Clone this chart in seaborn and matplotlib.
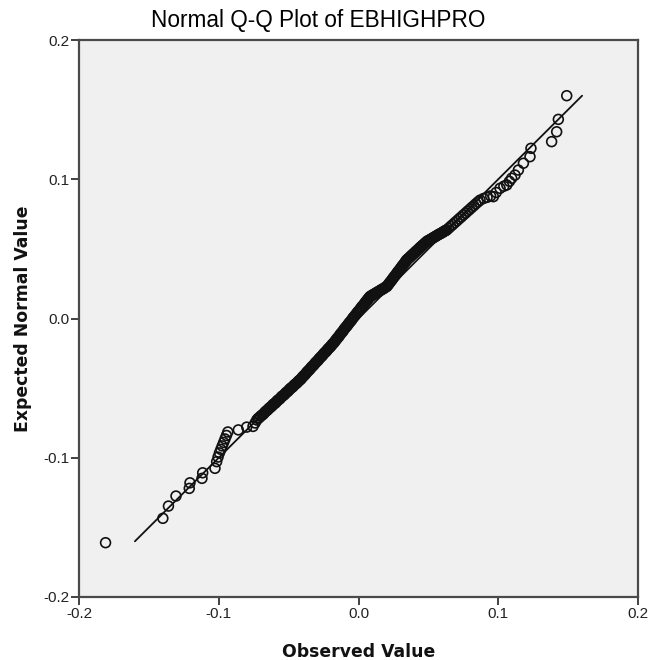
import numpy as np
import pandas as pd
import matplotlib
matplotlib.use("Agg")
import matplotlib.pyplot as plt
import seaborn as sns

observed = [
    -0.1810, -0.1400, -0.1360, -0.1306, -0.1211, -0.1206, -0.1120, -0.1115, -0.1027, -0.1015,
    -0.1005, -0.0995, -0.0985, -0.0975, -0.0965, -0.0955, -0.0945, -0.0935, -0.0860, -0.0800,
    -0.0755, -0.0740,
    -0.0728, -0.0710, -0.0692, -0.0675, -0.0660, -0.0645, -0.0630, -0.0615, -0.0600, -0.0585,
    -0.0570, -0.0555, -0.0540, -0.0525, -0.0510, -0.0495, -0.0480, -0.0465, -0.0450, -0.0435,
    -0.0420, -0.0405, -0.0390, -0.0375, -0.0360, -0.0345, -0.0330, -0.0315, -0.0300, -0.0285,
    -0.0270, -0.0255, -0.0240, -0.0225, -0.0210, -0.0195, -0.0180, -0.0165, -0.0150, -0.0135,
    -0.0120, -0.0105, -0.0090, -0.0075, -0.0060, -0.0045, -0.0030, -0.0013, 0.0000, 0.0015,
    0.0030, 0.0045, 0.0060, 0.0070, 0.0082, 0.0095, 0.0110, 0.0125, 0.0140, 0.0155,
    0.0170, 0.0185, 0.0202, 0.0215, 0.0230, 0.0245, 0.0260, 0.0275, 0.0290, 0.0305,
    0.0320, 0.0335, 0.0345, 0.0360, 0.0375, 0.0390, 0.0405, 0.0420, 0.0435, 0.0450,
    0.0465, 0.0487, 0.0500, 0.0515, 0.0530, 0.0545, 0.0560, 0.0575, 0.0590, 0.0605,
    0.0620, 0.0631, 0.0645, 0.0660, 0.0675, 0.0690, 0.0705, 0.0720, 0.0735, 0.0750,
    0.0765, 0.0780, 0.0795, 0.0810, 0.0825, 0.0840, 0.0855, 0.0870,
    0.0895, 0.0920, 0.0945, 0.0965, 0.0985, 0.1013, 0.1040, 0.1061, 0.1080, 0.1096,
    0.1120, 0.1144, 0.1180, 0.1227, 0.1234, 0.1382, 0.1418, 0.1430, 0.1490,
    # points intermédiaires de la zone dense
    -0.0719, -0.0701, -0.0684, -0.0668, -0.0652, -0.0638, -0.0622, -0.0608, -0.0592, -0.0578,
    -0.0562, -0.0548, -0.0532, -0.0518, -0.0502, -0.0488, -0.0472, -0.0458, -0.0442, -0.0428,
    -0.0412, -0.0398, -0.0382, -0.0368, -0.0352, -0.0338, -0.0322, -0.0308, -0.0292, -0.0278,
    -0.0262, -0.0248, -0.0232, -0.0218, -0.0202, -0.0188, -0.0172, -0.0158, -0.0142, -0.0128,
    -0.0112, -0.0098, -0.0082, -0.0068, -0.0052, -0.0038, -0.0022, -0.0006, 0.0008, 0.0022,
    0.0038, 0.0052, 0.0065, 0.0076, 0.0088, 0.0102, 0.0118, 0.0132, 0.0148, 0.0162,
    0.0178, 0.0193, 0.0208, 0.0222, 0.0238, 0.0252, 0.0268, 0.0282, 0.0298, 0.0312,
    0.0328, 0.0340, 0.0352, 0.0368, 0.0382, 0.0398, 0.0412, 0.0428, 0.0442, 0.0458,
    0.0476, 0.0494, 0.0508, 0.0522, 0.0538, 0.0552, 0.0568, 0.0582, 0.0598, 0.0612,
    0.0626,
]
expected = [
    -0.1610, -0.1435, -0.1347, -0.1275, -0.1220, -0.1180, -0.1148, -0.1108, -0.1076, -0.1028,
    -0.0995, -0.0965, -0.0940, -0.0915, -0.0890, -0.0865, -0.0840, -0.0815, -0.0800, -0.0780,
    -0.0775, -0.0750,
    -0.0729, -0.0712, -0.0695, -0.0680, -0.0664, -0.0651, -0.0637, -0.0622, -0.0610, -0.0595,
    -0.0582, -0.0567, -0.0554, -0.0540, -0.0526, -0.0511, -0.0498, -0.0484, -0.0470, -0.0456,
    -0.0442, -0.0426, -0.0410, -0.0393, -0.0376, -0.0360, -0.0343, -0.0327, -0.0310, -0.0294,
    -0.0277, -0.0261, -0.0244, -0.0228, -0.0211, -0.0195, -0.0178, -0.0159, -0.0140, -0.0120,
    -0.0101, -0.0081, -0.0062, -0.0043, -0.0024, -0.0004, 0.0015, 0.0037, 0.0053, 0.0072,
    0.0091, 0.0110, 0.0129, 0.0142, 0.0157, 0.0165, 0.0174, 0.0183, 0.0192, 0.0201,
    0.0210, 0.0219, 0.0229, 0.0246, 0.0266, 0.0286, 0.0306, 0.0326, 0.0346, 0.0366,
    0.0386, 0.0406, 0.0420, 0.0434, 0.0448, 0.0462, 0.0476, 0.0490, 0.0504, 0.0518,
    0.0532, 0.0552, 0.0560, 0.0568, 0.0577, 0.0586, 0.0595, 0.0604, 0.0612, 0.0621,
    0.0630, 0.0636, 0.0648, 0.0662, 0.0675, 0.0689, 0.0702, 0.0716, 0.0729, 0.0743,
    0.0756, 0.0770, 0.0783, 0.0797, 0.0810, 0.0824, 0.0837, 0.0850,
    0.0862, 0.0870, 0.0880, 0.0875, 0.0905, 0.0935, 0.0950, 0.0959, 0.0985, 0.1007,
    0.1030, 0.1066, 0.1115, 0.1162, 0.1222, 0.1270, 0.1341, 0.1430, 0.1600,
    # points intermédiaires de la zone dense
    -0.0718, -0.0702, -0.0689, -0.0671, -0.0658, -0.0643, -0.0631, -0.0615, -0.0604, -0.0587,
    -0.0576, -0.0559, -0.0548, -0.0532, -0.0520, -0.0503, -0.0492, -0.0476, -0.0464, -0.0448,
    -0.0435, -0.0417, -0.0402, -0.0384, -0.0369, -0.0351, -0.0336, -0.0318, -0.0303, -0.0285,
    -0.0270, -0.0252, -0.0237, -0.0219, -0.0204, -0.0186, -0.0169, -0.0149, -0.0131, -0.0110,
    -0.0092, -0.0071, -0.0053, -0.0033, -0.0015, 0.0006, 0.0025, 0.0046, 0.0062, 0.0082,
    0.0100, 0.0120, 0.0135, 0.0150, 0.0160, 0.0170, 0.0178, 0.0188, 0.0196, 0.0206,
    0.0214, 0.0225, 0.0237, 0.0256, 0.0276, 0.0296, 0.0316, 0.0336, 0.0356, 0.0376,
    0.0396, 0.0413, 0.0427, 0.0441, 0.0455, 0.0469, 0.0483, 0.0497, 0.0511, 0.0525,
    0.0542, 0.0556, 0.0564, 0.0572, 0.0582, 0.0590, 0.0600, 0.0608, 0.0616, 0.0626,
    0.0633,
]
ref_line = [-0.16, 0.16]
ticks = [-0.2, -0.1, 0.0, 0.1, 0.2]
tick_labels = ["-0.2", "-0.1", "0.0", "0.1", "0.2"]

df = pd.DataFrame({"obs": observed, "exp": expected})

sns.set_style("white")
plt.rcParams["font.family"] = ["Liberation Sans", "DejaVu Sans"]

fig = plt.figure(figsize=(6.52, 6.60), dpi=100)
ax = fig.add_axes([79 / 652, 1 - 597 / 660, 559 / 652, 557 / 660])
ax.set_facecolor("#f0f0f0")

ax.plot(ref_line, ref_line, color="#111111", lw=1.3, zorder=2)
sns.scatterplot(data=df, x="obs", y="exp", ax=ax, s=50, facecolor="none",
                edgecolor="#111111", linewidth=1.2, zorder=3)

ax.set_xlim(-0.2, 0.2)
ax.set_ylim(-0.2, 0.2)
ax.set_xticks(ticks)
ax.set_xticklabels(tick_labels)
ax.set_yticks(ticks)
ax.set_yticklabels(tick_labels)
ax.tick_params(direction="out", length=6, width=1.3, color="#333333",
               labelcolor="#222222", labelsize=11, pad=1, bottom=True, left=True)
for sp in ax.spines.values():
    sp.set_color("#4a4a4a")
    sp.set_linewidth(1.6)

ax.set_xlabel("Observed Value", family="DejaVu Sans", fontweight="bold",
              fontsize=12.4, labelpad=16, color="#111111")
ax.set_ylabel("Expected Normal Value", family="DejaVu Sans", fontweight="bold",
              fontsize=12.4, labelpad=8, color="#111111")
fig.text(318 / 652, 1 - 21 / 660, "Normal Q-Q Plot of EBHIGHPRO", fontsize=16.3,
         ha="center", va="center", color="black")

fig.savefig("out.png", dpi=100)
